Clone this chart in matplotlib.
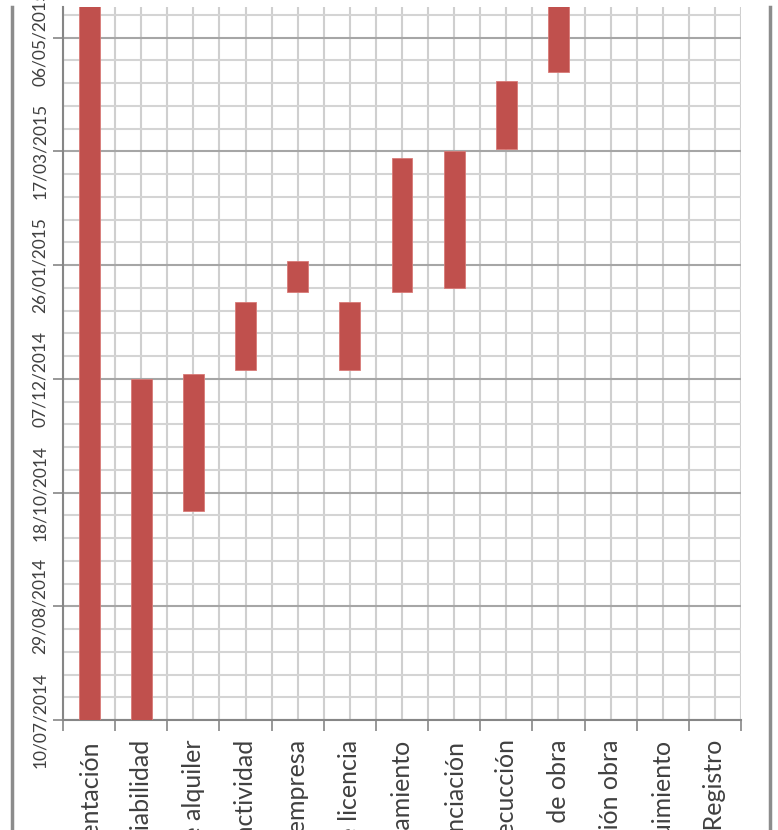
import datetime as dt
import matplotlib
matplotlib.use("Agg")
import matplotlib.pyplot as plt
from matplotlib.ticker import MultipleLocator, FuncFormatter
from matplotlib.lines import Line2D

# Gantt chart (rotated Excel style): task names, start dates and durations in days
tasks = ["Documentación", "Estudio de viabilidad", "Contrato de alquiler",
         "Alta de actividad", "Constitución de empresa", "Solicitud de licencia",
         "Acondicionamiento", "Financiación", "Proyecto de ejecucción",
         "Licencia de obra", "Finalización obra", "Seguimiento", "Inscripción Registro"]
starts = ["10/07/2014", "10/07/2014", "10/10/2014", "11/12/2014", "14/01/2015",
          "11/12/2014", "14/01/2015", "16/01/2015", "18/03/2015", "21/04/2015",
          None, None, None]
durations = [330, 150, 60, 30, 14, 30, 59, 60, 30, 40, 0, 0, 0]

origin = dt.datetime(2014, 7, 10)
axis_end = 313.5  # days shown on the date axis

plt.rcParams['font.family'] = ['Lato', 'DejaVu Sans']

fig = plt.figure(figsize=(7.78, 8.30), dpi=100)
ax = fig.add_axes([63 / 778, 1 - 720 / 830, (741 - 63) / 778, (720 - 7) / 830])

for i, (s, d) in enumerate(zip(starts, durations)):
    if s is None:
        continue
    day0 = (dt.datetime.strptime(s, "%d/%m/%Y") - origin).days
    ax.bar(i + 0.5, d, bottom=day0, width=0.4, color="#C0504D",
           edgecolor="#D97A77", linewidth=0.6, zorder=3)

ax.set_xlim(0, len(tasks))
ax.set_ylim(0, axis_end)

# date axis
ax.yaxis.set_major_locator(MultipleLocator(50))
ax.yaxis.set_minor_locator(MultipleLocator(10))
ax.yaxis.set_major_formatter(FuncFormatter(
    lambda v, p: (origin + dt.timedelta(days=v)).strftime("%d/%m/%Y")))
ax.tick_params(axis='y', which='major', length=7, width=1.2, color="#868686",
               labelsize=12.5, labelcolor="#404040", pad=4)
ax.tick_params(axis='y', which='minor', length=0)
for lbl in ax.get_yticklabels():
    lbl.set_rotation(90)
    lbl.set_va('center')

# category axis
ax.set_xticks(range(len(tasks) + 1))
ax.set_xticklabels([])
ax.set_xticks([i + 0.5 for i in range(len(tasks))], minor=True)
ax.set_xticklabels(tasks, minor=True, rotation=90, ha='center', va='top',
                   fontsize=18, color="#404040")
ax.tick_params(axis='x', which='major', length=8, width=1.2, color="#868686")
ax.tick_params(axis='x', which='minor', length=0, pad=14)

# grid
ax.grid(True, axis='y', which='major', color="#A6A6A6", linewidth=1.5, zorder=0)
ax.grid(True, axis='y', which='minor', color="#D4D4D4", linewidth=1.5, zorder=0)
ax.grid(True, axis='x', which='both', color="#CFCFCF", linewidth=1.5, zorder=0)
ax.set_axisbelow(True)

for side in ['top', 'right']:
    ax.spines[side].set_visible(False)
for side in ['left', 'bottom']:
    ax.spines[side].set_color("#868686")
    ax.spines[side].set_linewidth(1.5)

# chart area frame (left and right edges)
fig.add_artist(Line2D([12 / 778, 12 / 778], [0, 1 - 7 / 830],
                      transform=fig.transFigure, color="#8C8C8C", linewidth=2.5))
fig.add_artist(Line2D([770 / 778, 770 / 778], [0, 1 - 7 / 830],
                      transform=fig.transFigure, color="#8C8C8C", linewidth=2.5))

fig.savefig("out.png", dpi=100)
